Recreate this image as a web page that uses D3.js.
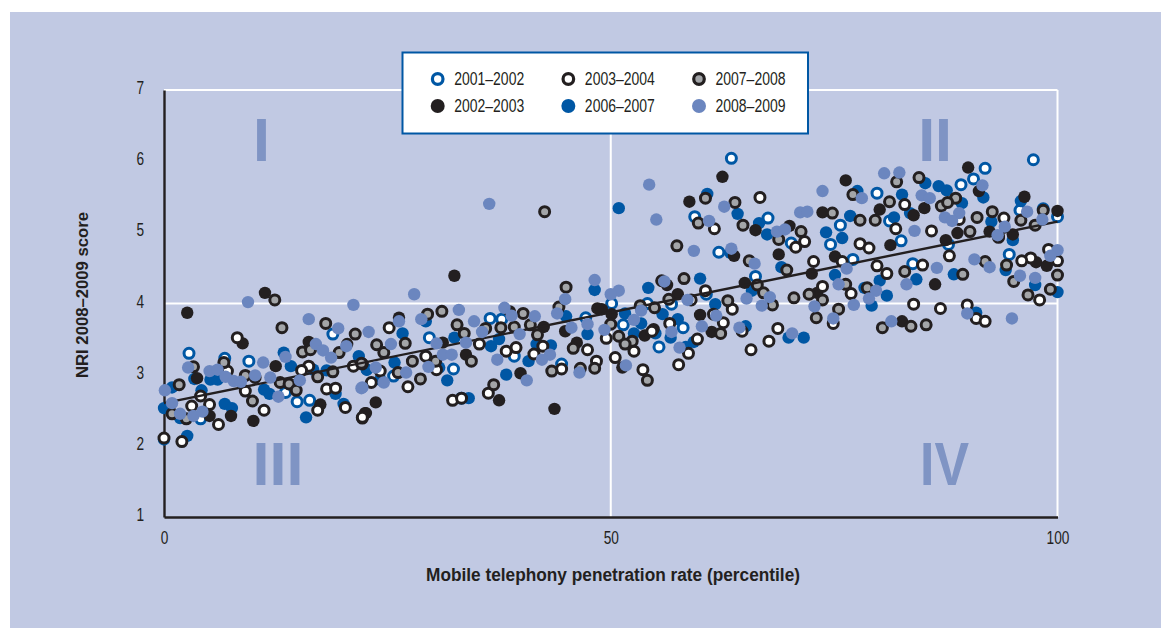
<!DOCTYPE html>
<html><head><meta charset="utf-8">
<script src="https://cdn.jsdelivr.net/npm/d3@7"></script>
<style>
html,body{margin:0;padding:0;background:#fff}
svg{display:block}
text{font-family:"Liberation Sans",sans-serif;fill:#231f20}
</style></head><body>
<svg id="c" width="1161" height="628"></svg>
<script>
const xTicks = [0,50,100];
const yTicks = [1,2,3,4,5,6,7];
const trendLine = [[0,2.6],[100,5.15]];
const xTitle = "Mobile telephony penetration rate (percentile)";
const yTitle = "NRI 2008–2009 score";
const quadrants = [["I",10.9,6],["II",86.3,6],["III",12.76,1.45],["IV",87.35,1.45]];

const s2001 = [[97.3,6.02],[91.9,5.90],[90.6,5.75],[89.2,5.67],[79.8,5.55],[75.7,5.10],[82.5,4.88],[77.1,4.62],[83.8,4.56],[94.6,4.69],[74.6,4.83],[98.4,5.33],[95.8,5.31],[100,5.22],[87.8,4.83],[81.2,5.16],
[63.5,6.04],[59.4,5.22],[67.6,5.20],[70.2,4.85],[62.1,4.72],[66.2,4.38],[50.1,4.00],[54.1,4.00],[51.4,3.70],[55.4,3.39],[58.1,3.66],[56.8,3.99],[60.7,4.13],
[36.5,3.79],[37.8,3.78],[29.7,3.52],[32.4,3.08],[25.7,2.98],[44.5,3.15],[39.2,3.26],[47.2,3.80],[33.3,2.67],
[2.8,3.30],[6.8,3.23],[9.5,3.19],[18.9,3.57],[13.6,2.75],[14.9,2.62],[16.3,2.64],[4.1,2.38]];

const s2006 = [[85.2,5.69],[86.7,5.65],[87.6,5.59],[77.6,5.58],[82.6,5.53],[91.7,5.49],[89.3,5.41],[95.9,5.44],[83.5,5.27],[76.8,5.23],[81.7,5.21],[92.6,5.15],[75.9,4.92],[95.0,4.89],[75.1,4.40],[88.4,4.41],[84.2,4.34],[80.1,4.32],[78.4,4.22],[80.9,4.11],[79.2,3.97],[94.2,4.47],[97.5,4.26],[100,4.16],[90.9,3.87],
[50.9,5.34],[60.8,5.54],[64.2,5.26],[66.6,5.13],[67.5,4.97],[74.1,5.00],[69.1,4.51],[60.0,4.35],[54.2,4.22],[65.8,4.18],[61.7,3.99],[55.8,3.85],[51.6,3.86],[53.4,3.72],[57.5,3.78],[52.6,3.58],[55.0,3.58],[59.3,3.46],[58.4,3.39],[65.1,3.68],[71.6,3.52],[69.9,3.52],[56.7,3.52],[63.4,4.71],
[48.2,4.19],[45.0,3.82],[26.7,3.58],[32.5,3.52],[36.6,3.40],[41.7,3.43],[43.3,3.41],[40.8,3.19],[38.3,3.00],[31.7,2.92],[34.1,2.67],[30.8,3.10],[25.8,3.17],[47.4,3.57],[22.7,3.07],[24.2,2.93],[37.5,3.50],[29.3,3.75],
[2.6,2.14],[0,2.53],[3.4,2.94],[4.2,2.78],[6.8,2.59],[7.6,2.53],[11.2,2.79],[11.8,2.73],[15.9,2.40],[19.2,2.73],[20.1,2.59],[13.4,3.31],[14.2,3.12],[16.7,3.07],[21.8,3.26],[0.9,2.82],[1.8,2.39],[5.2,2.93],[6.0,2.93],[18.2,3.06],[22.7,3.07],[0,2.09]];

const s2002 = [[76.3,5.73],[90.0,5.91],[96.3,5.50],[80.1,5.32],[85.1,5.34],[88.8,4.99],[87.5,4.89],[81.3,4.82],[75.1,4.66],[86.3,4.27],[98.8,4.53],[97.6,4.58],[95.0,4.97],[100,5.30],[92.4,5.01],[91.2,5.58],[82.6,3.75],[83.9,5.24],
[62.5,5.78],[58.8,5.43],[70.0,5.09],[66.2,5.03],[73.7,5.28],[68.8,4.69],[63.8,4.67],[72.5,4.42],[65.0,4.29],[57.5,4.13],[60.0,3.84],[61.3,3.60],[53.8,3.55],[54.8,3.64],[49.0,3.92],[50.1,3.85],[51.3,3.10],[73.1,4.15],[56.3,4.26],
[32.5,4.39],[37.5,2.64],[23.7,2.61],[43.7,2.52],[39.9,3.02],[33.8,3.28],[42.5,3.67],[31.2,3.45],[26.3,3.80],[44.9,3.61],[48.5,3.93],[46.2,3.45],[22.5,2.46],[38.7,3.89],
[2.6,3.87],[11.3,4.15],[10.0,2.35],[8.8,3.44],[5.1,2.42],[7.5,2.42],[12.5,3.12],[16.2,3.46],[20.5,3.43],[3.7,2.95],[17.5,2.58],[22.6,2.46]];

const s2003 = [[82.9,5.39],[81.9,5.05],[85.9,5.02],[77.9,4.84],[78.9,4.78],[87.9,4.67],[75.9,4.59],[79.8,4.53],[80.9,4.42],[84.9,4.54],[76.9,4.14],[83.9,3.99],[86.9,3.93],[89.9,3.98],[90.9,3.79],[91.9,3.75],[98.0,4.05],[97.0,4.64],[96.0,4.60],[100,4.60],[99.0,4.76],[93.4,4.94],[94.0,5.20],[89.0,5.18],[74.9,3.72],
[66.7,5.49],[61.6,5.05],[71.7,4.87],[70.7,4.79],[72.7,4.59],[60.6,4.18],[59.0,4.05],[63.6,3.92],[62.6,3.73],[56.6,3.72],[54.6,3.61],[59.7,3.50],[52.6,3.33],[49.5,3.51],[50.5,3.24],[58.7,3.30],[57.6,3.14],[53.6,3.07],[68.7,3.65],[67.7,3.47],[65.7,3.35],[64.7,3.61],[73.7,4.24],[61.5,3.85],
[25.2,3.66],[29.3,3.26],[35.3,3.43],[38.3,3.33],[39.4,3.38],[41.4,3.29],[44.5,3.08],[47.4,3.35],[27.3,2.83],[23.2,2.89],[36.3,2.74],[32.3,2.64],[22.2,2.39],[24.2,3.05],[30.5,3.07],[42.4,3.40],[48.4,3.19],[33.3,2.67],
[8.2,3.52],[0,2.11],[2.0,2.06],[3.1,2.56],[6.1,2.30],[5.1,2.58],[11.2,2.50],[4.1,2.70],[7.1,3.05],[9.1,2.77],[18.2,2.80],[19.2,2.81],[17.2,2.50],[20.3,2.54],[22.2,2.40],[16.2,3.12],[15.4,3.06],[10.2,2.96],[21.2,3.12]];

const s2007 = [[84.5,5.77],[82.0,5.71],[77.1,5.53],[81.2,5.43],[88.6,5.48],[87.0,5.37],[87.7,5.42],[74.8,5.27],[77.9,5.17],[79.6,5.17],[91.0,5.21],[90.2,5.01],[92.7,5.29],[98.4,5.31],[95.9,5.17],[97.5,5.10],[93.4,4.93],[91.9,4.59],[94.3,4.54],[89.4,4.41],[82.9,4.45],[100,4.40],[95.1,4.31],[76.3,4.27],[78.7,4.22],[75.5,3.92],[80.4,3.66],[83.6,3.68],[85.3,3.70],[96.7,4.12],[99.2,4.20],
[57.4,4.81],[63.9,5.42],[60.6,5.48],[59.8,5.13],[64.8,5.10],[71.3,5.01],[68.8,4.90],[69.7,4.47],[65.5,4.60],[58.2,4.35],[55.7,4.32],[56.5,4.06],[54.9,3.94],[53.3,3.97],[66.4,4.26],[67.1,4.15],[68.1,3.98],[63.1,4.04],[70.5,4.08],[72.2,4.13],[73.7,4.05],[73.0,3.80],[50.0,3.71],[50.9,3.54],[52.4,3.47],[51.6,3.43],[54.1,2.92],[62.3,3.58],
[45.0,4.23],[42.6,5.29],[29.5,3.85],[31.1,3.89],[32.8,3.70],[33.6,3.58],[36.0,3.65],[37.7,3.66],[39.2,3.67],[40.2,3.86],[41.0,3.70],[41.8,3.56],[44.2,3.95],[45.8,3.37],[48.2,3.09],[43.4,3.05],[46.6,3.09],[36.9,2.86],[34.4,3.19],[28.7,2.94],[26.2,3.03],[27.8,3.19],[27.0,3.44],[23.8,3.42],[24.6,3.31],[30.4,3.19],[22.2,3.15],
[12.4,4.05],[1.7,2.86],[13.2,3.66],[18.1,3.72],[21.4,3.57],[0.9,2.45],[2.5,2.38],[6.7,3.17],[9.1,2.99],[9.9,2.63],[13.0,2.89],[14.0,2.87],[14.8,2.78],[17.2,2.97],[18.9,3.04],[15.5,3.32],[16.4,3.35],[19.6,3.31],[22.1,3.16],[3.3,3.11]];

const s2008 = [[80.6,5.83],[82.3,5.84],[91.6,5.66],[78.1,5.48],[84.8,5.52],[85.7,5.48],[89.0,5.27],[87.4,5.21],[88.2,5.16],[84.0,5.02],[96.6,5.29],[98.3,5.18],[94.1,5.08],[93.3,4.96],[100,4.75],[99.2,4.67],[90.7,4.62],[92.4,4.51],[86.5,4.50],[76.4,4.49],[95.8,4.39],[97.5,4.36],[83.1,4.27],[75.5,4.27],[79.7,4.18],[78.9,4.07],[77.2,3.98],[89.9,3.86],[94.9,3.79],[81.4,3.75],[74.9,3.79],
[54.3,5.67],[55.1,5.18],[73.7,5.58],[71.2,5.28],[72.0,5.29],[62.7,5.36],[61.0,5.16],[68.6,5.01],[69.5,5.04],[59.3,4.74],[63.5,4.77],[66.1,4.56],[56.0,4.31],[50.9,4.18],[50.0,4.13],[67.8,4.09],[65.2,4.07],[66.9,3.97],[72.8,3.96],[53.4,3.90],[52.6,3.77],[61.8,3.83],[60.2,3.68],[64.4,3.66],[70.3,3.58],[56.8,3.60],[57.7,3.38],[51.7,3.13],[49.3,3.63],[58.6,4.05],
[36.4,5.40],[48.2,4.33],[28.0,4.13],[28.8,3.78],[33.0,3.91],[34.7,3.75],[44.9,4.06],[44.0,3.86],[38.1,3.94],[38.9,3.83],[41.5,3.82],[45.6,3.66],[47.4,3.71],[35.6,3.60],[39.8,3.57],[30.5,3.44],[33.8,3.45],[22.9,3.60],[25.4,3.43],[31.2,3.28],[32.2,3.28],[23.7,3.10],[29.6,3.11],[27.1,3.03],[24.6,2.89],[22.2,2.82],[37.3,3.21],[43.2,3.28],[42.3,3.21],[46.5,3.03],[40.6,2.92],[26.3,3.75],
[9.4,4.02],[21.2,3.98],[16.2,3.78],[19.5,3.65],[0.1,2.78],[0.9,2.60],[2.7,3.10],[5.1,3.05],[6.0,3.07],[6.9,2.97],[7.8,2.91],[8.6,2.90],[10.2,2.99],[11.1,3.17],[11.9,2.96],[12.8,2.69],[13.6,3.25],[15.2,2.92],[17.0,3.43],[17.8,3.34],[18.7,3.24],[20.4,3.40],[22.1,2.81],[1.8,2.45],[3.3,2.42],[4.3,2.48]];

const colors = {panel:"#c1c9e3",dark:"#231f20",blue:"#0057a4",light:"#6b86bf",gray:"#a3a5a8",numeral:"#7f94c4"};
const legendItems = [
 {name:"2001–2002",kind:"ring",stroke:colors.blue,fill:"#fff",col:0,row:0},
 {name:"2002–2003",kind:"dot",fill:colors.dark,col:0,row:1},
 {name:"2003–2004",kind:"ring",stroke:colors.dark,fill:"#fff",col:1,row:0},
 {name:"2006–2007",kind:"dot",fill:colors.blue,col:1,row:1},
 {name:"2007–2008",kind:"ring",stroke:colors.dark,fill:colors.gray,col:2,row:0},
 {name:"2008–2009",kind:"dot",fill:colors.light,col:2,row:1}];

const svg = d3.select("#c");
const x = d3.scaleLinear().domain([0,100]).range([164,1057.5]);
const y = d3.scaleLinear().domain([1,7]).range([517,90]);

svg.append("rect").attr("x",10).attr("y",12).attr("width",1151).attr("height",616).attr("fill",colors.panel);

svg.append("g").selectAll("text").data(quadrants).join("text")
 .attr("x",d=>x(d[1])).attr("y",d=>y(d[2])).attr("text-anchor","middle")
 .style("font-weight","bold").style("font-size","61px").style("fill",colors.numeral)
 .attr("lengthAdjust","spacingAndGlyphs").attr("textLength",d=>d[0]==="IV"?49:null)
 .text(d=>d[0]);

const w = svg.append("g").attr("stroke","#fff").attr("stroke-width",2).attr("fill","none");
[4,7].forEach(v=>w.append("line").attr("x1",x(0)).attr("x2",x(100)).attr("y1",y(v)).attr("y2",y(v)));
[50,100].forEach(v=>w.append("line").attr("x1",x(v)).attr("x2",x(v)).attr("y1",y(1)).attr("y2",y(7)));

const xAxis = svg.append("g").attr("transform",`translate(0,${y(1)})`)
 .call(d3.axisBottom(x).tickValues(xTicks).tickFormat(d3.format("d")).tickSize(0).tickPadding(15));
const yAxis = svg.append("g").attr("transform",`translate(${x(0)},0)`)
 .call(d3.axisLeft(y).tickValues(yTicks).tickFormat(d3.format("d")).tickSize(0).tickPadding(20));
[xAxis,yAxis].forEach(a=>{
 a.select(".domain").attr("stroke",colors.dark).attr("stroke-width",2.4);
 a.selectAll("text").style("font-family","'Liberation Sans',sans-serif").style("font-size","17.5px").style("fill",colors.dark)
  .attr("lengthAdjust","spacingAndGlyphs").attr("textLength",d=>String(d).length*7.6);
});
yAxis.selectAll("text").attr("dy","0.2em");

const marks = svg.append("g");
function ring(data,stroke,fill){
 marks.append("g").selectAll("circle").data(data).join("circle")
  .attr("cx",d=>x(d[0])).attr("cy",d=>y(d[1])).attr("r",5)
  .attr("fill",fill).attr("stroke",stroke).attr("stroke-width",3);
}
function dot(data,fill){
 marks.append("g").selectAll("circle").data(data).join("circle")
  .attr("cx",d=>x(d[0])).attr("cy",d=>y(d[1])).attr("r",6.2).attr("fill",fill);
}
ring(s2001,colors.blue,"#fff");
dot(s2006,colors.blue);
dot(s2002,colors.dark);
ring(s2003,colors.dark,"#fff");
ring(s2007,colors.dark,colors.gray);
const lineGen = d3.line().x(d=>x(d[0])).y(d=>y(d[1]));
marks.append("path").attr("d",lineGen(trendLine)).attr("fill","none").attr("stroke",colors.dark).attr("stroke-width",2.4);
dot(s2008,colors.light);

svg.append("text").attr("x",613).attr("y",581).attr("text-anchor","middle")
 .style("font-weight","bold").style("font-size","18px").attr("lengthAdjust","spacingAndGlyphs").attr("textLength",374).text(xTitle);
svg.append("text").attr("transform","translate(88,295) rotate(-90)").attr("text-anchor","middle")
 .style("font-weight","bold").style("font-size","16.5px").attr("lengthAdjust","spacingAndGlyphs").attr("textLength",166).text(yTitle);

svg.append("rect").attr("x",402.5).attr("y",52.5).attr("width",405.5).attr("height",81).attr("fill","#fff").attr("stroke",colors.blue).attr("stroke-width",2);
const lx = d3.scalePoint().domain([0,1,2]).range([437.7,699]);
const ly = d3.scalePoint().domain([0,1]).range([79,106]);
const lg = svg.append("g").selectAll("g").data(legendItems).join("g").attr("transform",d=>`translate(${lx(d.col)},${ly(d.row)})`);
lg.append("circle").attr("r",d=>d.kind==="ring"?5.3:7).attr("fill",d=>d.fill)
 .attr("stroke",d=>d.kind==="ring"?d.stroke:"none").attr("stroke-width",3.2);
lg.append("text").attr("x",16.5).attr("y",6.3).style("font-size","17.5px").attr("lengthAdjust","spacingAndGlyphs").attr("textLength",70).text(d=>d.name);
</script></body></html>
